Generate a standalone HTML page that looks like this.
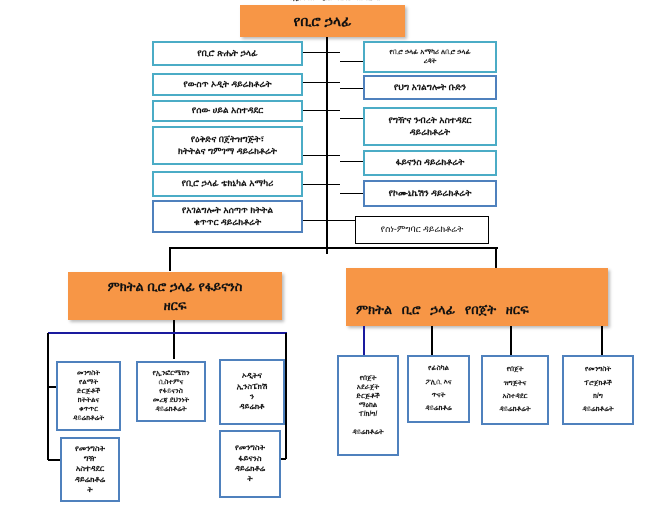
<!DOCTYPE html>
<html><head><meta charset="utf-8"><style>
body{margin:0;width:662px;height:526px;background:#fff;position:relative;overflow:hidden;font-family:"Liberation Sans","DejaVu Sans",sans-serif;}
.b{position:absolute;box-sizing:border-box;border:2px solid #4BACC6;background:#fff;display:flex;align-items:center;justify-content:center;text-align:center;font-size:9px;font-weight:bold;color:#111;line-height:1.3;overflow:hidden}
.u{border-color:#4F81BD}
.o{position:absolute;box-sizing:border-box;background:#F79646;box-shadow:2px 2px 3px #bbb;display:flex;align-items:center;justify-content:center;text-align:center;font-weight:bold;font-size:13px;color:#111}
.l{position:absolute;background:#000}
.s{font-size:7px;font-weight:bold}
</style></head><body>
<div style="position:absolute;left:230px;top:-5px;width:210px;font-size:7px;font-weight:bold;color:#333;text-align:center">የኢትዮጵያ ፌዴራላዊ ዴሞክራሲያዊ</div>
<div class="o" style="left:240px;top:5px;width:165px;height:32px;font-size:14px">የቢሮ ኃላፊ</div>
<div class="l" style="left:326px;top:37px;width:2px;height:217px"></div>
<div class="l" style="left:170px;top:247px;width:328px;height:2px"></div>
<div class="l" style="left:169px;top:247px;width:2px;height:24px"></div>
<div class="l" style="left:495px;top:247px;width:2px;height:22px"></div>
<div class="l" style="left:303px;top:52px;width:37px;height:1px"></div>
<div class="l" style="left:303px;top:82px;width:37px;height:1px"></div>
<div class="l" style="left:303px;top:110px;width:37px;height:1px"></div>
<div class="l" style="left:303px;top:155px;width:37px;height:1px"></div>
<div class="l" style="left:303px;top:184px;width:37px;height:1px"></div>
<div class="l" style="left:303px;top:220px;width:37px;height:1px"></div>
<div class="l" style="left:340px;top:61px;width:23px;height:1px"></div>
<div class="l" style="left:340px;top:88px;width:23px;height:1px"></div>
<div class="l" style="left:340px;top:118px;width:23px;height:1px"></div>
<div class="l" style="left:340px;top:161px;width:23px;height:1px"></div>
<div class="l" style="left:340px;top:193px;width:23px;height:1px"></div>
<div class="l" style="left:340px;top:220px;width:15px;height:1px"></div>
<div class="b" style="left:152px;top:41px;width:151px;height:25px">የቢሮ ጽሔት ኃላፊ</div>
<div class="b" style="left:152px;top:73px;width:151px;height:23px">የውስጥ ኦዲት ዳይሬክቶሬት</div>
<div class="b" style="left:152px;top:100px;width:151px;height:22px">የሰው ሀይል አስተዳደር</div>
<div class="b" style="left:152px;top:126px;width:151px;height:39px">የዕቅድና በጀትዝግጅት፣<br>ክትትልና ግምገማ ዳይሬክቶሬት</div>
<div class="b" style="left:152px;top:171px;width:151px;height:26px">የቢሮ ኃላፊ ቴክኒካል አማካሪ</div>
<div class="b u" style="left:152px;top:200px;width:151px;height:33px">የአገልግሎት አሰጣጥ ክትትል<br>ቁጥጥር ዳይሬክቶሬት</div>
<div class="b s" style="left:363px;top:41px;width:134px;height:32px">የቢሮ ኃላፊ አማካሪ ለቢሮ ኃላፊ<br>ረዳት</div>
<div class="b u" style="left:363px;top:75px;width:134px;height:25px">የህግ አገልግሎት ቡድን</div>
<div class="b" style="left:363px;top:107px;width:134px;height:39px">የግዥና ንብረት አስተዳደር<br>ዳይሬክቶሬት</div>
<div class="b" style="left:363px;top:150px;width:134px;height:26px">ፋይናንስ ዳይሬክቶሬት</div>
<div class="b u" style="left:363px;top:180px;width:134px;height:27px">የኮሙኒኬሽን ዳይሬክቶሬት</div>
<div class="b" style="left:355px;top:216px;width:134px;height:28px;border:1px solid #000;font-weight:normal">የስነ-ምግባር ዳይሬክቶሬት</div>
<div class="o" style="left:68px;top:272px;width:214px;height:48px;line-height:1.5">ምክትል ቢሮ ኃላፊ የፋይናንስ<br>ዘርፍ</div>
<div class="l" style="left:173px;top:320px;width:2px;height:13px"></div>
<div style="position:absolute;left:48px;top:332px;width:239px;height:2px;background:#1a1a9e"></div>
<div class="l" style="left:47px;top:333px;width:2px;height:127px"></div>
<div class="l" style="left:285px;top:333px;width:2px;height:126px"></div>
<div class="l" style="left:173px;top:334px;width:2px;height:25px"></div>
<div class="l" style="left:48px;top:386px;width:9px;height:2px"></div>
<div class="l" style="left:48px;top:459px;width:12px;height:2px"></div>
<div class="l" style="left:270px;top:376px;width:16px;height:2px"></div>
<div class="l" style="left:270px;top:458px;width:16px;height:2px"></div>
<div class="b u s" style="left:56px;top:361px;width:65px;height:70px">መንግስት<br>የልማት<br>ድርጅቶች<br>ክትትልና<br>ቁጥጥር<br>ዳይሬክቶሬት</div>
<div class="b u s" style="left:60px;top:437px;width:60px;height:65px;font-size:8px">የመንግስት<br>ግዥ<br>አስተዳደር<br>ዳይሬክቶሬ<br>ት</div>
<div class="b u s" style="left:136px;top:361px;width:70px;height:61px">የኢንፎርሜሽን<br>ሲስተምና<br>የፋይናንስ<br>መረጃ ደህንነት<br>ዳይሬክቶሬት</div>
<div class="b u s" style="left:219px;top:359px;width:66px;height:66px;font-size:8px">ኦዲትና<br>ኢንስፔክሽ<br>ን<br>ዳይሬክቶ</div>
<div class="b u s" style="left:219px;top:430px;width:62px;height:68px;font-size:8px">የመንግስት<br>ፋይናንስ<br>ዳይሬክቶሬ<br>ት</div>
<div class="o" style="left:346px;top:268px;width:262px;height:58px;align-items:flex-end;justify-content:flex-start;padding:0 0 8px 10px;font-size:13px;word-spacing:6px">ምክትል ቢሮ ኃላፊ የበጀት ዘርፍ</div>
<div style="position:absolute;left:363px;top:326px;width:2px;height:30px;background:#1a1a9e"></div>
<div class="l" style="left:431px;top:326px;width:2px;height:29px"></div>
<div class="l" style="left:510px;top:326px;width:2px;height:29px"></div>
<div class="l" style="left:601px;top:326px;width:2px;height:29px"></div>
<div class="b u s" style="left:337px;top:355px;width:62px;height:101px">የበጀት<br>አደራጀት<br>ድርጅቶች<br>ማዕከል<br>ፐ/ክ/ግ/<br><br>ዳይሬክቶሬት</div>
<div class="b u s" style="left:407px;top:355px;width:63px;height:68px;line-height:1.9">የፊስካል<br>ፖሊሲ እና<br>ጥናት<br>ዳይሬክቶሬ</div>
<div class="b u s" style="left:481px;top:355px;width:68px;height:70px;line-height:1.9">የበጀት<br>ዝግጅትና<br>አስተዳደር<br>ዳይሬክቶሬት</div>
<div class="b u s" style="left:562px;top:355px;width:72px;height:70px;line-height:1.9">የመንግስት<br>ፕሮጀክቶች<br>ክ/ግ<br>ዳይሬክቶሬት</div>
</body></html>
